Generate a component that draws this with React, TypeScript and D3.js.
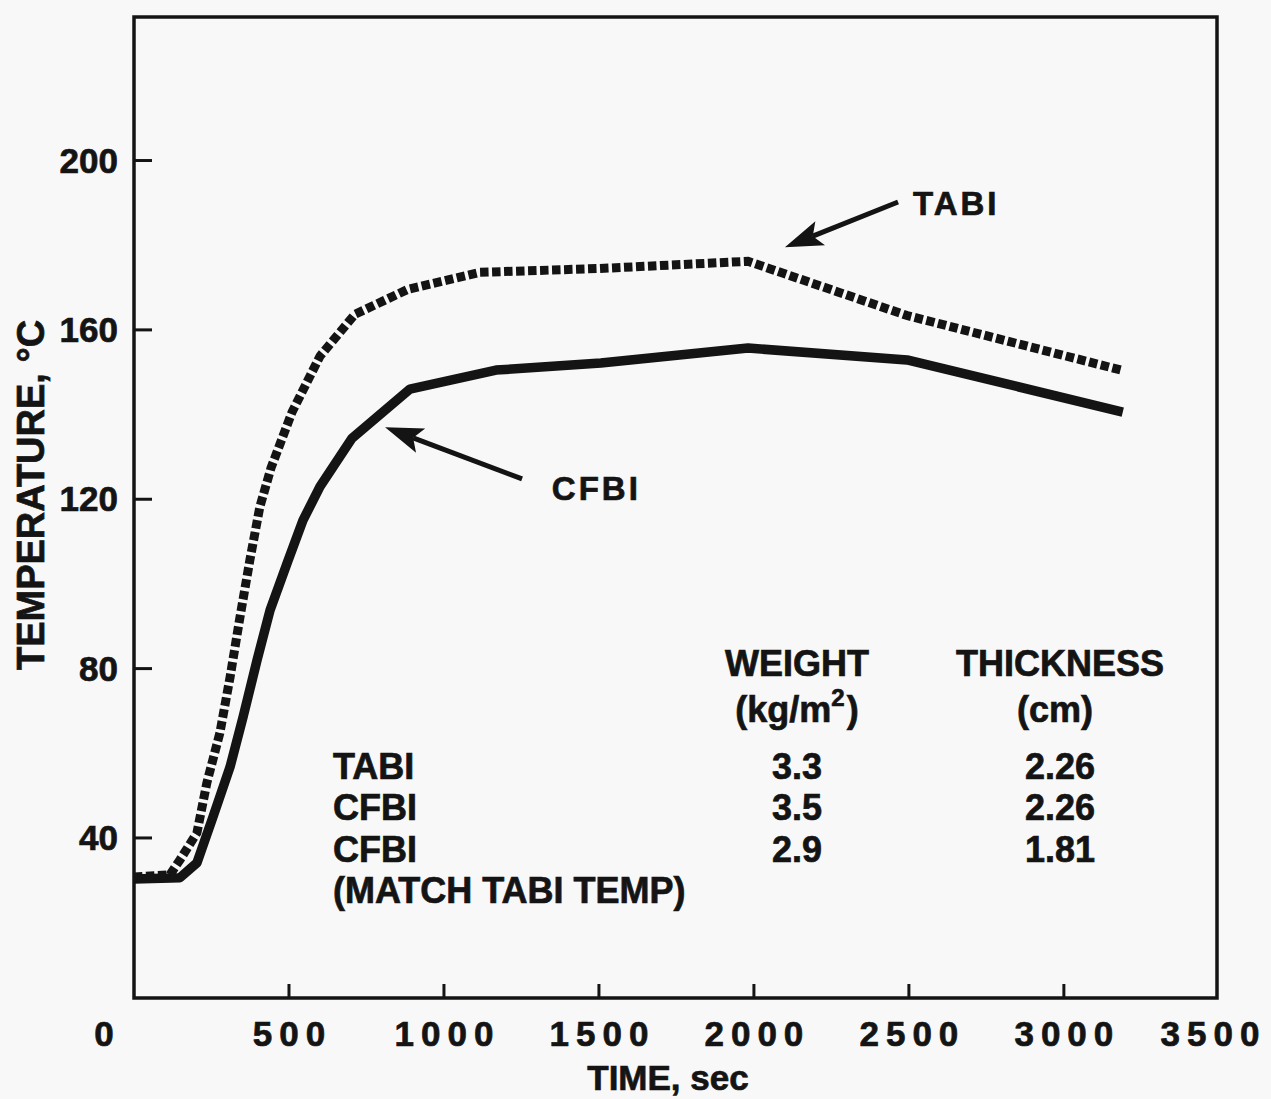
import React from "react";
import * as d3 from "d3";

// ---- data ----
const tabiTime = [0, 116, 148, 203, 235, 277, 310, 342, 374, 406, 442, 510, 600, 713, 884, 1116, 1503, 1981, 2494, 3190];
const tabiTemp = [30.8, 31.3, 34.8, 41.2, 53.0, 64.8, 78.0, 92.2, 105.7, 118.2, 127.4, 140.6, 153.8, 163.7, 169.6, 173.6, 174.5, 176.2, 163.4, 150.4];

const cfbiTime = [0, 148, 203, 255, 310, 352, 397, 439, 494, 545, 600, 703, 890, 1168, 1506, 1981, 2494, 3190];
const cfbiTemp = [30.3, 30.6, 34.1, 45.0, 56.8, 68.6, 82.0, 93.8, 104.9, 115.0, 123.0, 134.4, 146.0, 150.5, 152.2, 155.7, 152.9, 140.6];

const xTicks = [0, 500, 1000, 1500, 2000, 2500, 3000, 3500];
const xTickLabels = ["0", "500", "1000", "1500", "2000", "2500", "3000", "3500"];
const yTicks = [40, 80, 120, 160, 200];
const yTickLabels = ["40", "80", "120", "160", "200"];

const xDomain = [0, 3494];
const yDomain = [2.2, 233.9];

// annotations (data coords): label, tip, tail, text anchor
const annoLabels = ["TABI", "CFBI"];
const annoTip = [[2100, 179.5], [810, 137.0]];
const annoTail = [[2465, 190.2], [1252, 124.8]];
const annoText = [[2513, 187.1], [1348, 119.8]];

// table
const tableHeaders = ["WEIGHT", "THICKNESS"];
const tableUnits = ["(cm)"];
const tableRows = ["TABI", "CFBI", "CFBI"];
const tableWeight = ["3.3", "3.5", "2.9"];
const tableThickness = ["2.26", "2.26", "1.81"];
const tableNote = "(MATCH TABI TEMP)";

const FONT = "'Liberation Sans', Arial, Helvetica, sans-serif";
const INK = "#141414";

export default function App() {
  const W = 1271, H = 1099;
  const left = 134, right = 1217, top = 17, bottom = 998;
  const x = d3.scaleLinear().domain(xDomain).range([left, right]);
  const y = d3.scaleLinear().domain(yDomain).range([bottom, top]);

  const line = d3.line<[number, number]>().x(d => x(d[0])).y(d => y(d[1])).curve(d3.curveLinear);
  const tabi = line(tabiTime.map((t, i) => [t, tabiTemp[i]] as [number, number])) || "";
  const cfbi = line(cfbiTime.map((t, i) => [t, cfbiTemp[i]] as [number, number])) || "";

  const xs = x.domain(), ys = y.domain();
  const fx0 = x(xs[0]), fx1 = x(xs[1]), fy0 = y(ys[1]), fy1 = y(ys[0]);

  const arrows = annoLabels.map((lab, i) => {
    const tx = x(annoTip[i][0]), ty = y(annoTip[i][1]);
    const sx = x(annoTail[i][0]), sy = y(annoTail[i][1]);
    const ang = Math.atan2(sy - ty, sx - tx);
    const L = 38, hw = 13;
    const bx = tx + Math.cos(ang) * L, by = ty + Math.sin(ang) * L;
    const nx = -Math.sin(ang), ny = Math.cos(ang);
    const inner = 30;
    const ix = tx + Math.cos(ang) * inner, iy = ty + Math.sin(ang) * inner;
    const pts = [
      [tx, ty],
      [bx + nx * hw, by + ny * hw],
      [ix, iy],
      [bx - nx * hw, by - ny * hw],
    ];
    return { lab, tx, ty, sx, sy, ix, iy, pts, lx: x(annoText[i][0]), ly: y(annoText[i][1]) };
  });

  const lsX = 7;
  const colW = 797, colT = 1060, rowX = 333;
  const rowBase = [779, 820, 862];
  const heavy = { stroke: INK, strokeWidth: 0.7 } as const;

  return (
    <svg width={W} height={H} style={{ position: "absolute", left: 0, top: 0, background: "#f8f8f8" }} fontFamily={FONT} fontWeight="bold" fill={INK}>
      <rect x={0} y={0} width={W} height={H} fill="#f8f8f8" />
      {/* frame */}
      <rect x={fx0} y={fy0} width={fx1 - fx0} height={fy1 - fy0} fill="none" stroke={INK} strokeWidth={3.5} />
      {/* x ticks */}
      {xTicks.map((t, i) => (
        <g key={"xt" + i}>
          {t > 0 && t < xs[1] && <line x1={x(t)} x2={x(t)} y1={fy1} y2={fy1 - 14} stroke={INK} strokeWidth={3} />}
          <text x={t === 0 ? x(t) - 30 : Math.min(x(t), 1210)} dx={lsX / 2} y={1046} fontSize={35} letterSpacing={lsX} textAnchor="middle" {...heavy}>{xTickLabels[i]}</text>
        </g>
      ))}
      {/* y ticks */}
      {yTicks.map((v, i) => (
        <g key={"yt" + i}>
          <line x1={fx0} x2={fx0 + 18} y1={y(v)} y2={y(v)} stroke={INK} strokeWidth={3} />
          <text x={118} y={y(v) + 12} fontSize={35} textAnchor="end" {...heavy}>{yTickLabels[i]}</text>
        </g>
      ))}
      {/* axis titles */}
      <text x={668} y={1090} fontSize={35} textAnchor="middle" {...heavy}>TIME, sec</text>
      <text transform={`translate(44,495) rotate(-90)`} fontSize={38} textAnchor="middle" {...heavy}>TEMPERATURE, °C</text>

      {/* curves */}
      <path d={cfbi} fill="none" stroke={INK} strokeWidth={9.5} strokeLinejoin="round" />
      <path d={tabi} fill="none" stroke={INK} strokeWidth={9} strokeDasharray="8.5 3.5" strokeLinejoin="miter" />

      {/* annotations */}
      {arrows.map((a, i) => (
        <g key={"an" + i}>
          <line x1={a.sx} y1={a.sy} x2={a.ix} y2={a.iy} stroke={INK} strokeWidth={5} />
          <polygon points={a.pts.map(p => p.join(",")).join(" ")} fill={INK} />
          <text x={a.lx} y={a.ly} fontSize={33} letterSpacing={3} {...heavy}>{a.lab}</text>
        </g>
      ))}

      {/* table */}
      <text x={colW} y={676} fontSize={36} textAnchor="middle" {...heavy}>{tableHeaders[0]}</text>
      <text x={colT} y={676} fontSize={36} textAnchor="middle" {...heavy}>{tableHeaders[1]}</text>
      <text x={colW} y={722} fontSize={36} textAnchor="middle" {...heavy}>
        (kg/m<tspan fontSize={24} dy={-16}>2</tspan><tspan dy={16} dx={2}>)</tspan>
      </text>
      <text x={colT - 5} y={722} fontSize={36} textAnchor="middle" {...heavy}>{tableUnits[0]}</text>
      {tableRows.map((r, i) => (
        <g key={"tr" + i}>
          <text x={rowX} y={rowBase[i]} fontSize={36} {...heavy}>{r}</text>
          <text x={colW} y={rowBase[i]} fontSize={36} textAnchor="middle" {...heavy}>{tableWeight[i]}</text>
          <text x={colT} y={rowBase[i]} fontSize={36} textAnchor="middle" {...heavy}>{tableThickness[i]}</text>
        </g>
      ))}
      <text x={rowX} y={903} fontSize={36} {...heavy}>{tableNote}</text>
    </svg>
  );
}
